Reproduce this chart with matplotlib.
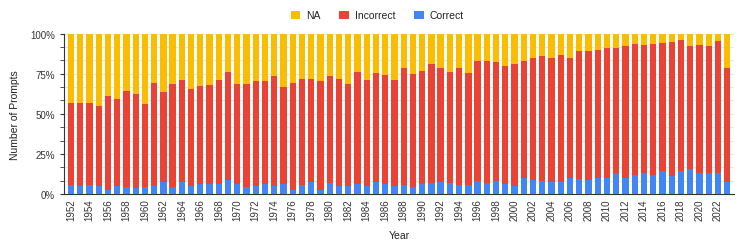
import numpy as np
import matplotlib.pyplot as plt
from matplotlib.ticker import FixedLocator, PercentFormatter

plt.rcParams['font.family'] = ['Liberation Sans', 'DejaVu Sans']

# data (percent of prompts)
years = list(range(1952, 2024))

correct = [5.8, 5.1, 5.8, 5.1, 2.4, 5.1, 4.5, 3.9, 4.7, 5.1,
           7.3, 4.4, 7.7, 5.1, 6.0, 6.0, 6.3, 8.6, 6.0, 4.5,
           5.1, 6.3, 5.1, 6.0, 2.4, 5.8, 7.3, 2.4, 7.1, 4.8,
           4.8, 6.0, 5.0, 7.7, 6.4, 5.1, 5.8, 4.4, 6.3, 7.0,
           7.4, 7.0, 5.7, 5.7, 8.2, 7.0, 8.1, 6.0, 4.8, 10.0,
           8.8, 8.1, 7.7, 7.3, 10.2, 9.4, 8.7, 10.1, 10.1, 13.3,
           9.8, 11.6, 13.3, 12.1, 14.6, 11.1, 14.6, 15.4, 13.3, 13.4,
           13.3, 7.7]

# correct + incorrect (top of the red part)
answered = [56.7, 56.7, 56.8, 54.9, 60.9, 59.3, 64.3, 62.6, 56.1, 69.0,
            63.5, 68.7, 71.4, 65.5, 67.6, 68.0, 71.4, 75.9, 68.8, 68.6,
            70.3, 70.3, 73.6, 66.7, 69.5, 72.0, 71.5, 70.7, 73.7, 71.5,
            68.9, 75.9, 70.8, 75.5, 74.5, 70.8, 78.5, 75.0, 76.7, 80.9,
            78.8, 76.3, 78.8, 75.5, 82.8, 82.7, 82.1, 79.6, 80.8, 82.7,
            85.0, 86.3, 84.6, 86.7, 84.9, 89.2, 89.2, 89.8, 91.3, 91.3,
            92.0, 93.7, 92.8, 93.6, 94.2, 94.9, 95.8, 92.0, 92.9, 92.0,
            95.3, 78.4]

correct = np.array(correct)
incorrect = np.array(answered) - correct
na = 100 - np.array(answered)

fig = plt.figure(figsize=(7.47, 2.53), dpi=100)
ax = fig.add_axes([0.0857, 0.229, 0.897, 0.634])

x = np.arange(len(years))
w = 0.68
ax.bar(x, correct, w, color='#4285F4', label='Correct', zorder=3)
ax.bar(x, incorrect, w, bottom=correct, color='#EA4335', label='Incorrect', zorder=3)
ax.bar(x, na, w, bottom=correct + incorrect, color='#FBBC04', label='NA', zorder=3)

ax.set_xlim(-0.75, len(years) - 0.25)
ax.set_ylim(0, 100)

ax.yaxis.set_major_locator(FixedLocator([0, 25, 50, 75, 100]))
ax.yaxis.set_minor_locator(FixedLocator(np.linspace(0, 100, 13)))
ax.yaxis.set_major_formatter(PercentFormatter(decimals=0))
ax.grid(axis='y', which='both', color='#e6e6e6', linewidth=0.8, zorder=0)
ax.tick_params(axis='y', which='both', length=3, color='#333333', labelsize=7, labelcolor='#333333')

ax.set_xticks(x[::2])
ax.set_xticklabels([str(y) for y in years[::2]], rotation=90, fontsize=7, color='#333333')
ax.tick_params(axis='x', length=0, pad=3)

for s in ['top', 'right']:
    ax.spines[s].set_visible(False)
ax.spines['left'].set_color('#333333')
ax.spines['bottom'].set_color('#333333')

ax.set_xlabel('Year', fontsize=7.5, color='#222222', labelpad=7)
ax.set_ylabel('Number of Prompts', fontsize=7.5, color='#222222', labelpad=7)

h, l = ax.get_legend_handles_labels()
fig.legend(h[::-1], l[::-1], loc='center', bbox_to_anchor=(0.505, 0.935), ncol=3,
           frameon=False, fontsize=7.5, handlelength=0.9, handleheight=0.9,
           handletextpad=0.6, columnspacing=1.8, labelcolor='#222222')

fig.savefig('out.png', dpi=100)
